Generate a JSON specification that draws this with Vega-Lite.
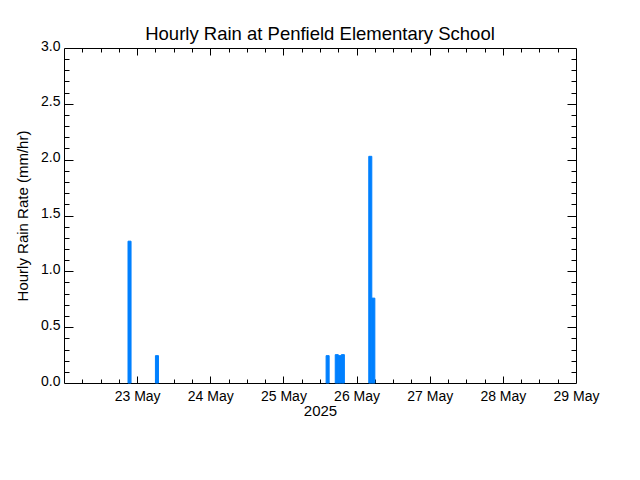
{
  "$schema": "https://vega.github.io/schema/vega-lite/v6.json",
  "width": 512,
  "height": 335,
  "autosize": {"type": "none"},
  "padding": {"left": 64, "top": 48, "right": 64, "bottom": 97},
  "background": "white",
  "title": {"text": "Hourly Rain at Penfield Elementary School", "fontSize": 18.5, "font": "Liberation Sans", "fontWeight": "normal", "color": "black", "anchor": "middle", "offset": -4},
  "config": {
    "view": {"stroke": "black", "strokeWidth": 1},
    "axis": {"domain": false, "grid": false, "labelFont": "Liberation Sans", "titleFont": "Liberation Sans", "labelFontSize": 14, "titleFontSize": 15, "titleFontWeight": "normal", "labelColor": "black", "titleColor": "black", "tickColor": "black", "labelOverlap": false, "labelBound": false, "labelFlush": false}
  },
  "datasets": {
    "rain": [
      {"start": "2025-05-22T21:00:00", "end": "2025-05-22T22:00:00", "rain": 1.27},
      {"start": "2025-05-23T06:00:00", "end": "2025-05-23T07:00:00", "rain": 0.245},
      {"start": "2025-05-25T14:00:00", "end": "2025-05-25T15:00:00", "rain": 0.245},
      {"start": "2025-05-25T17:00:00", "end": "2025-05-25T18:00:00", "rain": 0.254},
      {"start": "2025-05-25T18:00:00", "end": "2025-05-25T19:00:00", "rain": 0.245},
      {"start": "2025-05-25T19:00:00", "end": "2025-05-25T20:00:00", "rain": 0.254},
      {"start": "2025-05-26T04:00:00", "end": "2025-05-26T05:00:00", "rain": 2.03},
      {"start": "2025-05-26T05:00:00", "end": "2025-05-26T06:00:00", "rain": 0.76}
    ]
  },
  "data": {"name": "rain"},
  "resolve": {"axis": {"x": "independent", "y": "independent"}},
  "layer": [
    {
      "mark": {"type": "bar", "color": "#0080ff", "stroke": "#0080ff", "strokeWidth": 1},
      "encoding": {
        "x": {"field": "start", "type": "temporal",
              "scale": {"domain": ["2025-05-22T00:00:00", "2025-05-29T00:00:00"]},
              "axis": {"orient": "bottom", "title": "2025", "ticks": false, "format": "%d %b",
                       "values": ["2025-05-23T00:00:00", "2025-05-24T00:00:00", "2025-05-25T00:00:00", "2025-05-26T00:00:00", "2025-05-27T00:00:00", "2025-05-28T00:00:00", "2025-05-29T00:00:00"],
                       "labelPadding": 6, "titlePadding": 0}},
        "x2": {"field": "end"},
        "y": {"field": "rain", "type": "quantitative",
              "scale": {"domain": [0, 3], "nice": false},
              "axis": {"orient": "left", "title": "Hourly Rain Rate (mm/hr)", "ticks": false, "values": [0, 0.5, 1, 1.5, 2, 2.5, 3], "format": ".1f", "labelPadding": 4, "labelOffset": -2, "titlePadding": 10}},
        "y2": {"datum": 0}
      }
    },
    {
      "mark": {"type": "bar", "opacity": 0},
      "encoding": {
        "x": {"field": "start", "type": "temporal",
              "axis": {"orient": "bottom", "title": null, "labels": false, "tickSize": 7, "offset": -7,
                       "values": ["2025-05-23T00:00:00", "2025-05-24T00:00:00", "2025-05-25T00:00:00", "2025-05-26T00:00:00", "2025-05-27T00:00:00", "2025-05-28T00:00:00"]}},
        "x2": {"field": "end"},
        "y": {"field": "rain", "type": "quantitative",
              "axis": {"orient": "left", "title": null, "labels": false, "values": [0.5, 1, 1.5, 2, 2.5], "tickSize": 9, "offset": -9}},
        "y2": {"datum": 0}
      }
    },
    {
      "mark": {"type": "bar", "opacity": 0},
      "encoding": {
        "x": {"field": "start", "type": "temporal",
              "axis": {"orient": "bottom", "title": null, "labels": false, "tickSize": 4, "offset": -4,
                       "values": ["2025-05-22T06:00:00", "2025-05-22T12:00:00", "2025-05-22T18:00:00", "2025-05-23T06:00:00", "2025-05-23T12:00:00", "2025-05-23T18:00:00", "2025-05-24T06:00:00", "2025-05-24T12:00:00", "2025-05-24T18:00:00", "2025-05-25T06:00:00", "2025-05-25T12:00:00", "2025-05-25T18:00:00", "2025-05-26T06:00:00", "2025-05-26T12:00:00", "2025-05-26T18:00:00", "2025-05-27T06:00:00", "2025-05-27T12:00:00", "2025-05-27T18:00:00", "2025-05-28T06:00:00", "2025-05-28T12:00:00", "2025-05-28T18:00:00"]}},
        "x2": {"field": "end"},
        "y": {"field": "rain", "type": "quantitative",
              "axis": {"orient": "left", "title": null, "labels": false, "values": [0.1, 0.2, 0.3, 0.4, 0.6, 0.7, 0.8, 0.9, 1.1, 1.2, 1.3, 1.4, 1.6, 1.7, 1.8, 1.9, 2.1, 2.2, 2.3, 2.4, 2.6, 2.7, 2.8, 2.9], "tickSize": 5, "offset": -5}},
        "y2": {"datum": 0}
      }
    },
    {
      "mark": {"type": "bar", "opacity": 0},
      "encoding": {
        "x": {"field": "start", "type": "temporal",
              "axis": {"orient": "top", "title": null, "labels": false, "tickSize": 7, "offset": -7,
                       "values": ["2025-05-23T00:00:00", "2025-05-24T00:00:00", "2025-05-25T00:00:00", "2025-05-26T00:00:00", "2025-05-27T00:00:00", "2025-05-28T00:00:00"]}},
        "x2": {"field": "end"},
        "y": {"field": "rain", "type": "quantitative",
              "axis": {"orient": "right", "title": null, "labels": false, "values": [0.5, 1, 1.5, 2, 2.5], "tickSize": 9, "offset": -9}},
        "y2": {"datum": 0}
      }
    },
    {
      "mark": {"type": "bar", "opacity": 0},
      "encoding": {
        "x": {"field": "start", "type": "temporal",
              "axis": {"orient": "top", "title": null, "labels": false, "tickSize": 4, "offset": -4,
                       "values": ["2025-05-22T06:00:00", "2025-05-22T12:00:00", "2025-05-22T18:00:00", "2025-05-23T06:00:00", "2025-05-23T12:00:00", "2025-05-23T18:00:00", "2025-05-24T06:00:00", "2025-05-24T12:00:00", "2025-05-24T18:00:00", "2025-05-25T06:00:00", "2025-05-25T12:00:00", "2025-05-25T18:00:00", "2025-05-26T06:00:00", "2025-05-26T12:00:00", "2025-05-26T18:00:00", "2025-05-27T06:00:00", "2025-05-27T12:00:00", "2025-05-27T18:00:00", "2025-05-28T06:00:00", "2025-05-28T12:00:00", "2025-05-28T18:00:00"]}},
        "x2": {"field": "end"},
        "y": {"field": "rain", "type": "quantitative",
              "axis": {"orient": "right", "title": null, "labels": false, "values": [0.1, 0.2, 0.3, 0.4, 0.6, 0.7, 0.8, 0.9, 1.1, 1.2, 1.3, 1.4, 1.6, 1.7, 1.8, 1.9, 2.1, 2.2, 2.3, 2.4, 2.6, 2.7, 2.8, 2.9], "tickSize": 5, "offset": -5}},
        "y2": {"datum": 0}
      }
    }
  ]
}
